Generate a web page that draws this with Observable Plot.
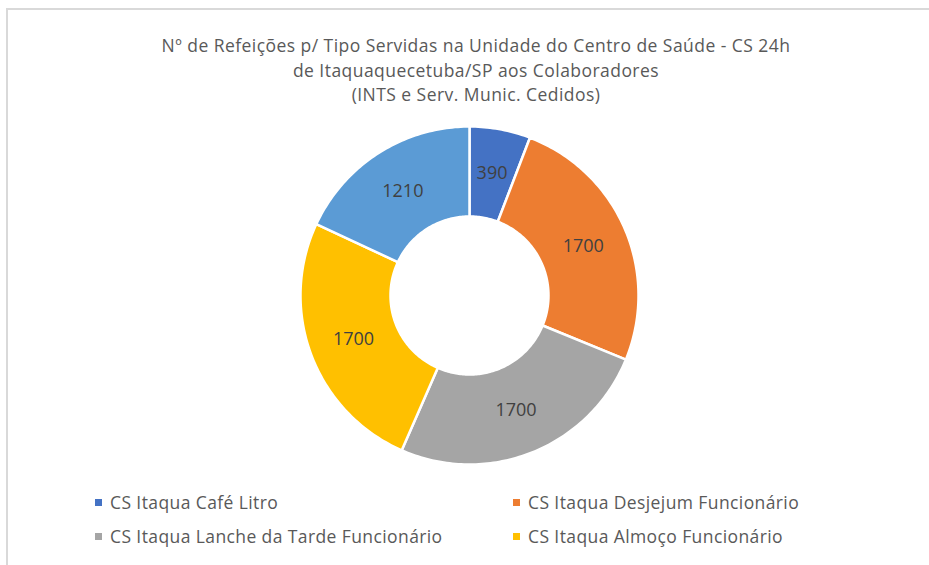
<!DOCTYPE html>
<html>
<head>
<meta charset="utf-8">
<script src="https://cdn.jsdelivr.net/npm/d3@7"></script>
<script src="https://cdn.jsdelivr.net/npm/@observablehq/plot@0.6"></script>
<style>
  html, body { margin: 0; padding: 0; background: #fff; }
  body { width: 929px; height: 565px; position: relative; overflow: hidden; font-family: "Open Sans", sans-serif; }
  #frame { position: absolute; left: 6px; top: 8px; width: 1000px; height: 1000px; border-left: 2px solid #d9d9d9; border-top: 2px solid #d9d9d9; }
  #title { position: absolute; left: 0; width: 952px; top: 33px; text-align: center; color: #595959; font-size: 17.5px; letter-spacing: 0.45px; line-height: 24.5px; }
  #chart { position: absolute; left: 0; top: 115px; }
  #legend { position: absolute; left: 0; top: 0; width: 929px; height: 565px; pointer-events: none; }
  .li { position: absolute; color: #595959; font-size: 17.5px; letter-spacing: 0.4px; white-space: nowrap; line-height: 20px; }
  .li span.sw { position: absolute; left: -15px; top: 7px; width: 7px; height: 7px; }
</style>
</head>
<body>
<div id="frame"></div>
<div id="title"></div>
<div id="chart"></div>
<div id="legend"></div>
<script>
// ---- data ----
const titleLines = [
  "Nº de Refeições p/ Tipo Servidas na Unidade do Centro de Saúde - CS 24h",
  "de Itaquaquecetuba/SP aos Colaboradores",
  "(INTS e Serv. Munic. Cedidos)"
];
const categories = [
  "CS Itaqua Café Litro",
  "CS Itaqua Desjejum Funcionário",
  "CS Itaqua Lanche da Tarde Funcionário",
  "CS Itaqua Almoço Funcionário",
  "CS Itaqua Jantar Funcionário"
];
const values = [390, 1700, 1700, 1700, 1210];
const colors = ["#4472C4", "#ED7D31", "#A5A5A5", "#FFC000", "#5B9BD5"];
const legendShown = [0, 1, 2, 3];

// ---- geometry derived from the data ----
const outerR = 169, innerR = 79;
const table = categories.map((c, i) => ({cat: c, value: values[i]}));
const arcs = d3.pie().sort(null).value(d => d.value)(table);
const pts = [];
const labels = [];
for (const a of arcs) {
  const steps = Math.max(8, Math.ceil((a.endAngle - a.startAngle) / (Math.PI / 180)));
  for (let k = 0; k <= steps; k++) {
    const t = a.startAngle + (a.endAngle - a.startAngle) * k / steps;
    pts.push({cat: a.data.cat, x: outerR * Math.sin(t), y: outerR * Math.cos(t)});
  }
  for (let k = steps; k >= 0; k--) {
    const t = a.startAngle + (a.endAngle - a.startAngle) * k / steps;
    pts.push({cat: a.data.cat, x: innerR * Math.sin(t), y: innerR * Math.cos(t)});
  }
  const m = (a.startAngle + a.endAngle) / 2, r = (outerR + innerR) / 2;
  labels.push({x: r * Math.sin(m), y: r * Math.cos(m), text: String(a.data.value)});
}

const W = 929, H = 360, cx = 469, cy = 180;
const plot = Plot.plot({
  width: W, height: H,
  margin: 0,
  x: {domain: [-cx, W - cx], range: [0, W], axis: null},
  y: {domain: [-(H - cy), cy], range: [H, 0], axis: null},
  color: {domain: categories, range: colors},
  style: {background: "transparent", overflow: "visible"},
  marks: [
    Plot.line(pts, {x: "x", y: "y", z: "cat", fill: "cat", stroke: "white", strokeWidth: 2.5, curve: "linear-closed"}),
    Plot.text(labels, {x: "x", y: "y", text: "text", fill: "#404040", fontSize: 18, fontFamily: "Open Sans"})
  ]
});
document.getElementById("chart").appendChild(plot);

document.getElementById("title").innerHTML = titleLines.map(t => `<div>${t}</div>`).join("");

const legPos = [[110, 492], [528, 492], [110, 526], [528, 526]];
const leg = document.getElementById("legend");
legendShown.forEach((idx, j) => {
  const d = document.createElement("div");
  d.className = "li";
  d.style.left = legPos[j][0] + "px";
  d.style.top = legPos[j][1] + "px";
  d.innerHTML = `<span class="sw" style="background:${colors[idx]}"></span>${categories[idx]}`;
  leg.appendChild(d);
});
</script>
</body>
</html>
